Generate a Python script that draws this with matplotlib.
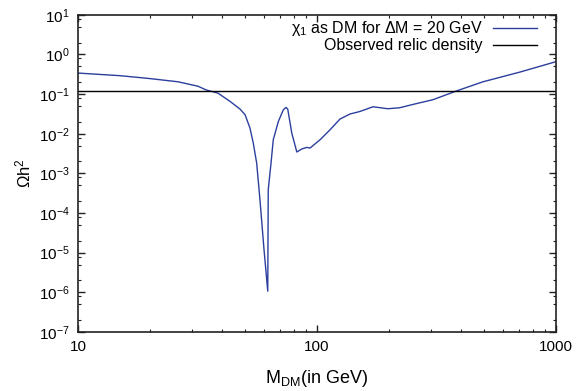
import matplotlib
matplotlib.use("Agg")
import matplotlib.pyplot as plt
from matplotlib.ticker import LogLocator, NullFormatter, FixedLocator, FixedFormatter

plt.rcParams['font.family'] = ['Liberation Sans', 'DejaVu Sans']
plt.rcParams['mathtext.fontset'] = 'custom'
plt.rcParams['mathtext.rm'] = 'Liberation Sans'
plt.rcParams['mathtext.it'] = 'Liberation Sans'

# --- Data ---
m_dm = [10, 15.0, 19.6, 26.2, 31.8, 34.3, 38.5, 43.3, 47.6, 50.0, 52.4, 54.1,
        55.9, 57.7, 60.0, 62.2, 62.5, 64.2, 65.6, 68.9, 72.3, 74.2, 75.4,
        78.4, 82.3, 86.3, 90.6, 93.5, 103, 113.4, 124.8, 137.4, 151.4, 171.5,
        198, 222, 257, 305, 385, 495, 706, 1000]
omega_h2 = [0.34, 0.292, 0.25, 0.205, 0.158, 0.128, 0.106, 0.0653, 0.0421,
            0.0302, 0.014, 0.00585, 0.00183, 2.18e-4, 1.2e-5, 1.07e-6, 3.9e-4,
            0.00183, 0.00708, 0.0205, 0.0404, 0.0461, 0.0421, 0.01045, 0.00347,
            0.00413, 0.00453, 0.00437, 0.00708, 0.01265, 0.02355, 0.0315,
            0.0366, 0.048, 0.0428, 0.0454, 0.0566, 0.0721, 0.1216, 0.205,
            0.36, 0.66]
relic_density = 0.12

y_ticks = [1e-7, 1e-6, 1e-5, 1e-4, 1e-3, 1e-2, 1e-1, 1e0, 1e1]
y_labels = [r'$10^{-7}$', r'$10^{-6}$', r'$10^{-5}$', r'$10^{-4}$', r'$10^{-3}$',
            r'$10^{-2}$', r'$10^{-1}$', r'$10^{0}$', r'$10^{1}$']
x_ticks = [10, 100, 1000]
x_labels = ['10', '100', '1000']

fig = plt.figure(figsize=(5.78, 3.91), dpi=100)
ax = fig.add_axes([0.135, 0.151, 0.827, 0.811])

ax.plot(m_dm, omega_h2, color='#2b3f9e', lw=1.0,
        label=r'$\chi_1$ as DM for $\Delta$M = 20 GeV')
ax.axhline(relic_density, color='black', lw=1.0, label='Observed relic density')

ax.set_xscale('log')
ax.set_yscale('log')
ax.set_xlim(10, 1000)
ax.set_ylim(1e-7, 1e1)

ax.xaxis.set_major_locator(FixedLocator(x_ticks))
ax.xaxis.set_major_formatter(FixedFormatter(x_labels))
ax.xaxis.set_minor_locator(LogLocator(base=10, subs=range(2, 10)))
ax.xaxis.set_minor_formatter(NullFormatter())
ax.yaxis.set_major_locator(FixedLocator(y_ticks))
ax.yaxis.set_major_formatter(FixedFormatter(y_labels))
ax.yaxis.set_minor_locator(LogLocator(base=10, subs=[2, 5, 8]))
ax.yaxis.set_minor_formatter(NullFormatter())

ax.tick_params(which='both', direction='in', top=True, right=True,
               labelsize=11, colors='#222222', labelcolor='black')
ax.tick_params(which='major', length=5, width=1.0, pad=6)
ax.tick_params(which='minor', length=2.5, width=0.8)
for s in ax.spines.values():
    s.set_linewidth(1.2)
    s.set_color('#222222')

ax.set_xlabel(r'M$_{\rm DM}$(in GeV)', fontsize=13, labelpad=10)
ax.set_ylabel(r'$\Omega$h$^2$', fontsize=12, labelpad=4)

ax.legend(loc='upper right', bbox_to_anchor=(0.973, 1.006), frameon=False,
          markerfirst=False, fontsize=11.5, handlelength=2.75,
          borderaxespad=0.0, labelspacing=0.0, handletextpad=0.65)

fig.savefig('out.png', dpi=100)
